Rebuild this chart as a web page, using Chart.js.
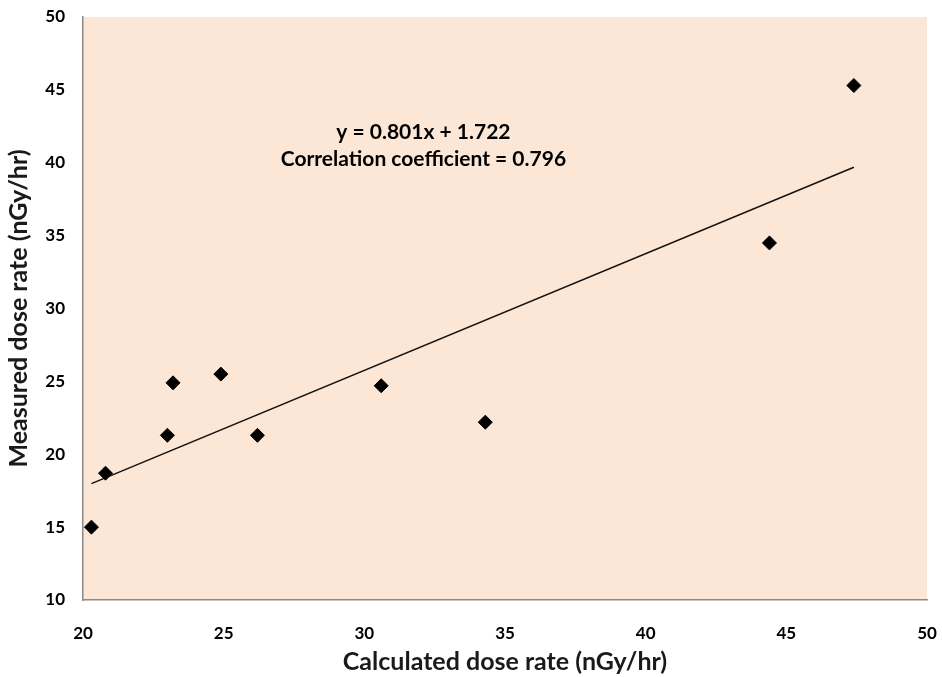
<!DOCTYPE html>
<html>
<head>
<meta charset="utf-8">
<script src="https://cdn.jsdelivr.net/npm/chart.js@4"></script>
<style>
  html, body { margin: 0; padding: 0; background: #fff; }
  #wrap { width: 942px; height: 677px; }
</style>
</head>
<body>
<div id="wrap"><canvas id="chart" width="942" height="677"></canvas></div>
<script>
// calculated vs measured dose rate (nGy/hr)
const calculated = [20.3, 20.8, 23.0, 23.2, 24.9, 26.2, 30.6, 34.3, 44.4, 47.4];
const measured   = [15.0, 18.7, 21.3, 24.9, 25.5, 21.3, 24.7, 22.2, 34.5, 45.3];
const slope = 0.801;
const intercept = 1.722;
const fitLabels = ['y = 0.801x + 1.722', 'Correlation coefficient = 0.796'];
const xTicks = [20, 25, 30, 35, 40, 45, 50];
const yTicks = [10, 15, 20, 25, 30, 35, 40, 45, 50];

const points = calculated.map((x, i) => ({ x: x, y: measured[i] }));
const xMin = Math.min(...calculated);
const xMax = Math.max(...calculated);
const trend = [xMin, xMax].map(x => ({ x: x, y: slope * x + intercept }));

const FONT = 'Lato, "Open Sans", sans-serif';

const plotBg = {
  id: 'plotBg',
  beforeDraw(chart) {
    const { ctx, chartArea: a } = chart;
    ctx.save();
    ctx.fillStyle = '#fce6d5';
    ctx.fillRect(a.left, a.top, a.right - a.left, a.bottom - a.top);
    ctx.restore();
  }
};

const fitText = {
  id: 'fitText',
  afterDatasetsDraw(chart) {
    const { ctx, scales } = chart;
    const cx = scales.x.getPixelForValue(32.1);
    const cy = scales.y.getPixelForValue(42.1);
    ctx.save();
    ctx.fillStyle = '#000';
    ctx.font = 'bold 21px ' + FONT;
    ctx.textAlign = 'center';
    ctx.textBaseline = 'middle';
    fitLabels.forEach((t, i) => ctx.fillText(t, cx, cy + i * 27));
    ctx.restore();
  }
};

// drop the extra room chart.js keeps for the end tick labels
function noEdgePad(s) {
  s.paddingTop = 0;
  s.paddingRight = 0;
  s.paddingLeft = 0;
  s.paddingBottom = 0;
}

new Chart(document.getElementById('chart'), {
  type: 'scatter',
  data: {
    datasets: [{
      label: 'Measured',
      data: points,
      pointStyle: 'rectRot',
      pointRadius: 7,
      pointHoverRadius: 7,
      backgroundColor: '#000',
      borderColor: '#000',
      borderWidth: 1
    }, {
      label: 'Linear fit',
      type: 'line',
      data: trend,
      borderColor: '#111',
      borderWidth: 1.5,
      pointRadius: 0,
      fill: false
    }]
  },
  options: {
    responsive: false,
    animation: false,
    layout: { padding: { top: 17, right: 15, left: 0, bottom: 0 } },
    plugins: { legend: { display: false }, tooltip: { enabled: false } },
    scales: {
      x: {
        type: 'linear',
        min: 20, max: 50,
        afterBuildTicks: s => { s.ticks = xTicks.map(v => ({ value: v })); },
        afterFit: s => { s.height = 77; noEdgePad(s); },
        grid: { display: false, drawTicks: false },
        border: { display: true, color: '#8a8a8a', width: 1.5 },
        ticks: { padding: 23, color: '#000', font: { family: FONT, size: 17, weight: 'bold' } },
        title: {
          display: true, text: 'Calculated dose rate (nGy/hr)', color: '#1a1a1a',
          font: { family: FONT, size: 25, weight: 'bold' }, padding: { top: 4, bottom: 0 }
        }
      },
      y: {
        type: 'linear',
        min: 10, max: 50,
        afterBuildTicks: s => { s.ticks = yTicks.map(v => ({ value: v })); },
        afterFit: s => { s.width = 83; noEdgePad(s); },
        grid: { display: false, drawTicks: false },
        border: { display: true, color: '#8a8a8a', width: 1.5 },
        ticks: { padding: 18, color: '#000', font: { family: FONT, size: 17, weight: 'bold' } },
        title: {
          display: true, text: 'Measured dose rate (nGy/hr)', color: '#1a1a1a',
          font: { family: FONT, size: 25, weight: 'bold' }, padding: { top: 4, bottom: 2 }
        }
      }
    }
  },
  plugins: [plotBg, fitText]
});
</script>
</body>
</html>
